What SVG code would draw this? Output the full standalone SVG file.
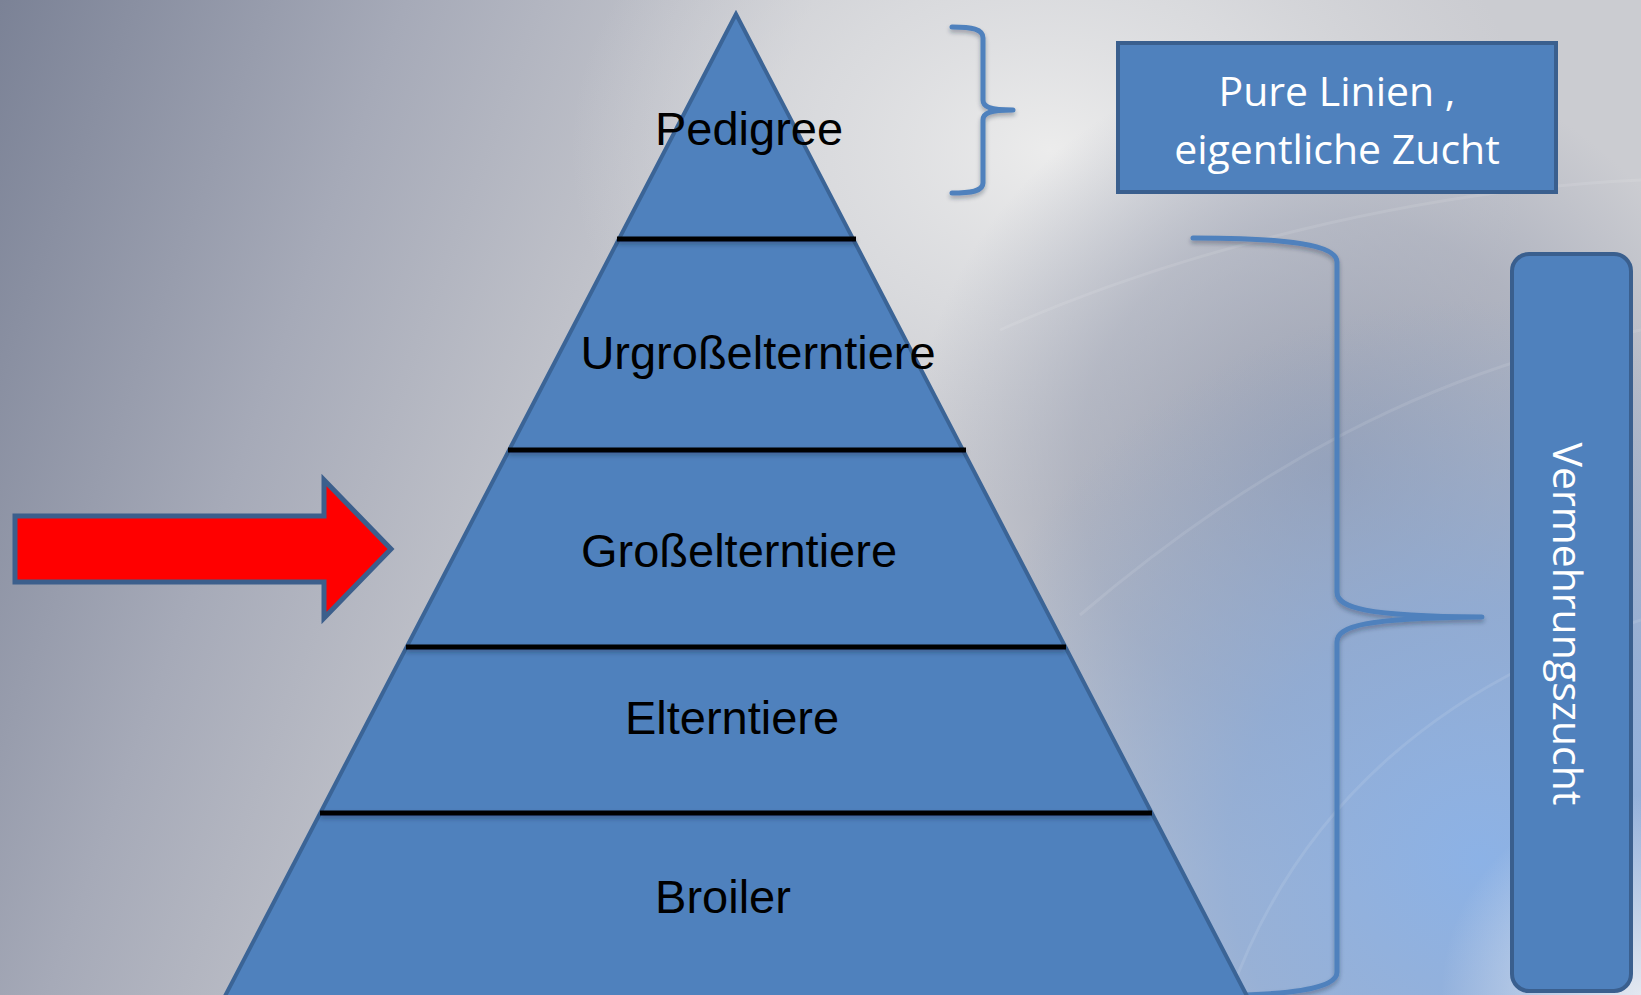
<svg xmlns="http://www.w3.org/2000/svg" width="1641" height="995" viewBox="0 0 1641 995">
  <defs>
    <linearGradient id="bgBase" x1="0" y1="0" x2="720" y2="260" gradientUnits="userSpaceOnUse">
      <stop offset="0" stop-color="#7b8296"/>
      <stop offset="0.5" stop-color="#a6aab8"/>
      <stop offset="1" stop-color="#cbccd1"/>
    </linearGradient>
    <radialGradient id="bgGlow" cx="1050" cy="150" r="480" gradientUnits="userSpaceOnUse" gradientTransform="translate(1050 150) scale(1 0.75) translate(-1050 -150)">
      <stop offset="0" stop-color="#ececec"/>
      <stop offset="0.5" stop-color="#e2e3e5" stop-opacity="0.6"/>
      <stop offset="1" stop-color="#dcdde0" stop-opacity="0"/>
    </radialGradient>
    <radialGradient id="bgGray" cx="1330" cy="470" r="420" gradientUnits="userSpaceOnUse">
      <stop offset="0" stop-color="#959caf" stop-opacity="0.9"/>
      <stop offset="0.6" stop-color="#9aa0b2" stop-opacity="0.55"/>
      <stop offset="1" stop-color="#9aa0b2" stop-opacity="0"/>
    </radialGradient>
    <radialGradient id="bgBlue" cx="1480" cy="860" r="560" gradientUnits="userSpaceOnUse">
      <stop offset="0" stop-color="#8cb2e6"/>
      <stop offset="0.45" stop-color="#8baad7" stop-opacity="0.8"/>
      <stop offset="1" stop-color="#8aa2c8" stop-opacity="0"/>
    </radialGradient>
    <radialGradient id="bgCorner" cx="1641" cy="995" r="200" gradientUnits="userSpaceOnUse">
      <stop offset="0" stop-color="#e3e8f1"/>
      <stop offset="1" stop-color="#e3e8f1" stop-opacity="0"/>
    </radialGradient>
    <filter id="shadow" filterUnits="userSpaceOnUse" x="0" y="0" width="1641" height="995">
      <feDropShadow dx="0" dy="3" stdDeviation="2" flood-color="#1f2a3a" flood-opacity="0.35"/>
    </filter>
    <style>
      .tier { font-family: "Liberation Sans", Arial, sans-serif; font-size: 47px; fill: #000; text-anchor: middle; }
      .label { font-family: "Open Sans", "Noto Sans", sans-serif; font-size: 41px; fill: #fff; text-anchor: middle; }
      .brace { fill: none; stroke: #4f81bd; stroke-width: 5; stroke-linecap: round; stroke-linejoin: round; filter: url(#shadow); }
      .divider { stroke: #000; stroke-width: 5; filter: url(#shadow); }
      .box { fill: #4f81bd; stroke: #3a5f8e; stroke-width: 4; }
      .swirl { fill: none; stroke: #ffffff; stroke-opacity: 0.1; stroke-width: 3; }
    </style>
  </defs>

  <!-- background -->
  <g id="background">
    <rect width="1641" height="995" fill="url(#bgBase)"/>
    <rect width="1641" height="995" fill="url(#bgGlow)"/>
    <rect width="1641" height="995" fill="url(#bgGray)"/>
    <rect width="1641" height="995" fill="url(#bgBlue)"/>
    <rect width="1641" height="995" fill="url(#bgCorner)"/>
    <path class="swirl" d="M1080,615 C1250,470 1430,370 1641,330"/>
    <path class="swirl" d="M1000,330 C1180,250 1420,190 1641,180"/>
    <path class="swirl" stroke-opacity="0.06" stroke-width="14" d="M1230,995 C1300,800 1450,680 1641,620"/>
  </g>

  <!-- braces and arrow -->
  <g id="connectors">
    <path id="brace-pedigree" class="brace" d="M952,27 C972,27 983,29 983,38 L983,100 C983,107 990,110 1013,110 C990,110 983,113 983,120 L983,183 C983,191 972,193 952,193"/>
    <path id="brace-multiplication" class="brace" d="M1193,238 C1290,238 1337,245 1337,262 L1337,592 C1337,608 1365,616 1482,617 C1365,618 1337,626 1337,642 L1337,972 C1337,989 1290,996 1193,996"/>
    <path id="pointer-arrow" d="M15,516 L324,516 L324,480 L391,549 L324,618 L324,582 L15,582 Z" fill="#ff0000" stroke="#3c5f8c" stroke-width="5" stroke-linejoin="miter"/>
  </g>

  <!-- pyramid -->
  <g id="pyramid">
    <polygon points="736,14 224,998 1248,998" fill="#4f81bd" stroke="#3b6496" stroke-width="4"/>
    <line class="divider" x1="617" y1="239" x2="856" y2="239"/>
    <line class="divider" x1="508" y1="450" x2="966" y2="450"/>
    <line class="divider" x1="406" y1="647" x2="1066" y2="647"/>
    <line class="divider" x1="320" y1="813" x2="1152" y2="813"/>
  </g>

  <g id="tier-pedigree"><text class="tier" x="749" y="145">Pedigree</text></g>
  <g id="tier-urgrosseltern"><text class="tier" x="758" y="369">Urgroßelterntiere</text></g>
  <g id="tier-grosseltern"><text class="tier" x="739" y="567">Großelterntiere</text></g>
  <g id="tier-eltern"><text class="tier" x="732" y="734">Elterntiere</text></g>
  <g id="tier-broiler"><text class="tier" x="723" y="913">Broiler</text></g>

  <!-- side labels -->
  <g id="box-pure-lines">
    <rect class="box" x="1118" y="43" width="438" height="149"/>
    <text class="label" x="1337" y="106">Pure Linien ,</text>
    <text class="label" x="1337" y="164">eigentliche Zucht</text>
  </g>

  <g id="box-multiplication">
    <rect class="box" x="1512" y="254" width="119" height="737" rx="17" ry="17"/>
    <text class="label" x="1553" y="624" transform="rotate(90 1553 624)">Vermehrungszucht</text>
  </g>
</svg>
